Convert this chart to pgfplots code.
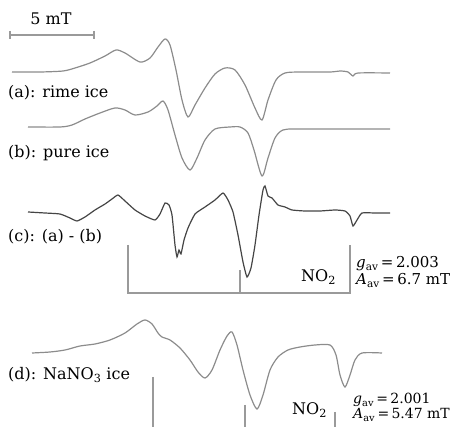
\documentclass[border=0pt]{standalone}
\usepackage{pgfplots}
\pgfplotsset{compat=1.18}
\usepackage{fontspec}
\setmainfont{DejaVu Serif}
\definecolor{cv}{HTML}{8C8C8C}
\definecolor{cd}{HTML}{454545}
\definecolor{st}{HTML}{9A9A9A}
\begin{document}
\begin{tikzpicture}
\useasboundingbox (0,0) rectangle (453pt,427pt);
\clip (0,0) rectangle (453pt,427pt);
\begin{axis}[at={(0,0)},anchor=south west,
  scale only axis, width=453pt, height=427pt,
  xmin=0, xmax=453, ymin=0, ymax=427, y dir=reverse,
  axis lines=none, clip=false,
  every axis plot/.append style={line width=1.2pt, smooth, tension=0.45}]
% (a) rime ice
\addplot[cv] coordinates {(12,72)(40,72)(63,71)(75,68)(90,63)(105,56)(116,50)(125,53)(140,62)(150,58)(158,47)(165,39)(170,45)(176,70)(182,100)(188,117)(195,105)(205,88)(215,74)(225,68)(235,70)(245,85)(255,108)(262,120)(268,100)(276,80)(285,73)(300,72)(330,72)(340,71)(348,72)(353,76)(358,73)(390,73)};
% (b) pure ice
\addplot[cv] coordinates {(28,127)(60,127)(72,125)(85,119)(100,113)(115,108)(125,110)(135,115)(148,112)(157,106)(163,101)(168,110)(175,135)(182,158)(190,170)(197,158)(205,140)(215,129)(230,127)(240,127)(248,133)(254,150)(262,176)(268,158)(275,138)(283,130)(300,129)(390,129)};
% (c) difference
\addplot[cd, tension=0.3] coordinates {(28,212)(45,213)(60,214)(70,218)(77,221)(85,217)(95,210)(105,204)(112,199)(118,195)(125,201)(135,210)(145,216)(155,220)(160,214)(165,203)(169,205)(172,215)(175,245)(177,257)(179,250)(181,254)(184,240)(188,228)(195,214)(205,207)(215,200)(223,193)(228,200)(233,212)(238,235)(243,262)(247,277)(251,268)(255,245)(259,215)(263,190)(265,186)(268,196)(272,198)(278,205)(285,207)(292,210)(305,211)(320,211)(335,210)(345,211)(350,216)(353,226)(357,220)(362,213)(375,213)(390,213)};
% (d) NaNO3 ice
\addplot[cv] coordinates {(32,353)(50,352)(65,350)(80,346)(95,344)(110,340)(125,333)(137,324)(145,320)(152,324)(158,333)(162,337)(170,340)(180,348)(190,360)(198,372)(205,378)(212,370)(220,350)(227,336)(232,332)(237,345)(243,370)(250,395)(257,409)(263,395)(270,370)(278,357)(288,350)(300,347)(315,345)(330,345)(336,355)(340,375)(345,387)(350,375)(355,360)(362,353)(382,353)};
% scale bar
\addplot[st, line width=1.2pt, sharp plot] coordinates {(10,35)(94,35)};
\addplot[st, line width=1.2pt, sharp plot] coordinates {(10,31)(10,39)};
\addplot[st, line width=1.2pt, sharp plot] coordinates {(94,31)(94,39)};
% stick diagram (c)
\addplot[st, line width=1.2pt, sharp plot] coordinates {(128,245)(128,293)(350,293)(350,245)};
\addplot[st, line width=1.2pt, sharp plot] coordinates {(240,270)(240,293)};
% stick diagram (d)
\addplot[st, line width=1.2pt, sharp plot] coordinates {(153,377)(153,430)};
\addplot[st, line width=1.2pt, sharp plot] coordinates {(245,405)(245,430)};
\addplot[st, line width=1.2pt, sharp plot] coordinates {(335,412)(335,430)};
% labels
\tikzset{lab/.style={font=\fontsize{16}{18}\selectfont, inner sep=0pt},
         sm/.style={font=\fontsize{15}{17}\selectfont, inner sep=0pt, anchor=base west},
         sms/.style={font=\fontsize{14}{16}\selectfont, inner sep=0pt, anchor=base west}}
\node[lab, anchor=base] at (axis cs:51,25) {5 mT};
\node[lab, anchor=base west] at (axis cs:8,98) {(a): rime ice};
\node[lab, anchor=base west] at (axis cs:8,158) {(b): pure ice};
\node[lab, anchor=base west] at (axis cs:8,242) {(c): (a) - (b)};
\node[lab, anchor=base west] at (axis cs:8,380) {(d): NaNO\textsubscript{3} ice};
\node[lab, anchor=base west] at (axis cs:301,282) {NO\textsubscript{2}};
\node[sm] at (axis cs:356,268) {\textit{g}\textsubscript{av}\,=\,2.003};
\node[sm] at (axis cs:356,285) {\textit{A}\textsubscript{av}\,=\,6.7 mT};
\node[lab, anchor=base west] at (axis cs:292,415) {NO\textsubscript{2}};
\node[sms] at (axis cs:353,404) {\textit{g}\textsubscript{av}\,=\,2.001};
\node[sms] at (axis cs:353,419) {\textit{A}\textsubscript{av}\,=\,5.47 mT};
\end{axis}
\end{tikzpicture}
\end{document}
